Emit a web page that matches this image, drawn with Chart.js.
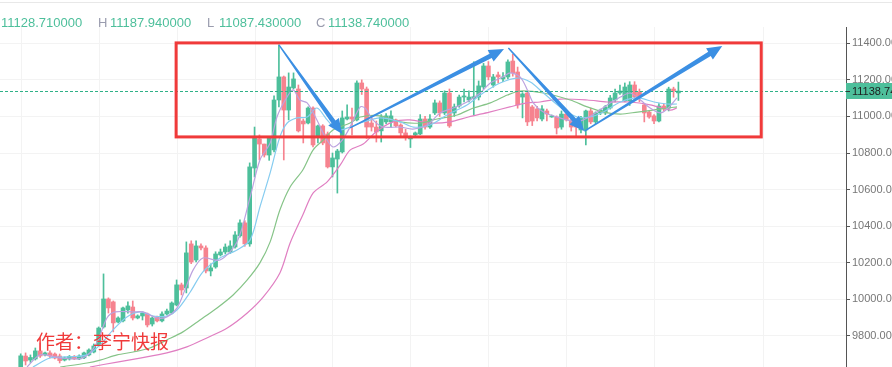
<!DOCTYPE html>
<html>
<head>
<meta charset="utf-8">
<script src="https://cdn.jsdelivr.net/npm/chart.js@4.4.0/dist/chart.umd.min.js"></script>
<style>
  html, body { margin: 0; padding: 0; background: #fff; overflow: hidden; }
</style>
</head>
<body>
<canvas id="kline" width="892" height="367"></canvas>
<script>
// candle data, one entry per bar, left to right
const opens = [
  9620, 9690, 9668, 9674, 9718, 9696, 9707, 9701, 9690, 9668,
  9674, 9688, 9674, 9680, 9696, 9712, 9751, 9849, 10002, 9986,
  9876, 9882, 9942, 9958, 9898, 9909, 9920, 9865, 9904, 9882,
  9920, 9925, 9969, 10079, 10062, 10303, 10215, 10292, 10281, 10155,
  10177, 10243, 10259, 10259, 10286, 10347, 10418, 10303, 10718, 10877,
  10849, 10789, 10817, 11090, 11216, 11035, 11156, 11150, 10975, 10964,
  11046, 10888, 10948, 10904, 10724, 10767, 10806, 10986, 10997, 10981,
  11183, 11150, 10964, 10942, 10921, 10970, 10970, 10981, 10953, 10910,
  10877, 10899, 10904, 10986, 10942, 11019, 11074, 11019, 11128, 11019,
  11057, 11106, 11090, 11098, 11106, 11161, 11276, 11172, 11227, 11205,
  11216, 11303, 11243, 11106, 11128, 11052, 11041, 10986, 11030, 10997,
  10997, 10942, 11013, 10981, 10964, 10926, 10926, 11030, 10970, 11019,
  11019, 11046, 11090, 11128, 11085, 11085, 11172, 11134, 11063, 11024,
  11003, 10975, 11057, 11046, 11150, 11128.71
];
const highs = [
  9702, 9707, 9696, 9734, 9761, 9712, 9718, 9707, 9701, 9685,
  9693, 9693, 9696, 9712, 9730, 9756, 9849, 10139, 10008, 9991,
  9904, 9958, 9986, 9991, 9915, 9931, 9925, 9904, 9909, 9931,
  9947, 9986, 10106, 10089, 10314, 10320, 10320, 10303, 10292, 10194,
  10260, 10275, 10303, 10320, 10370, 10434, 10430, 10746, 10942, 10899,
  10849, 10888, 11112, 11391, 11221, 11238, 11238, 11172, 10986, 11052,
  11052, 10953, 10955, 10915, 10800, 10820, 11030, 11063, 11046, 11194,
  11200, 11161, 11000, 10975, 11010, 11015, 11030, 10986, 10960, 10930,
  10893, 10915, 11010, 11000, 11010, 11090, 11085, 11140, 11150, 11068,
  11117, 11150, 11140, 11299, 11194, 11290, 11300, 11230, 11243, 11240,
  11310, 11340, 11270, 11130, 11139, 11060, 11055, 11060, 11040, 11008,
  11003, 11030, 11025, 10990, 10981, 11000, 11035, 11045, 11025, 11040,
  11060, 11115, 11150, 11172, 11183, 11190, 11190, 11150, 11070, 11030,
  11010, 11070, 11070, 11160, 11160, 11187.94
];
const lows = [
  9600, 9641, 9655, 9668, 9682, 9690, 9679, 9674, 9652, 9663,
  9668, 9670, 9670, 9676, 9690, 9707, 9745, 9843, 9925, 9822,
  9871, 9876, 9925, 9887, 9893, 9887, 9849, 9854, 9876, 9876,
  9915, 9920, 9964, 10024, 10035, 10195, 10204, 10270, 10144, 10128,
  10170, 10237, 10248, 10250, 10280, 10340, 10290, 10290, 10669, 10762,
  10778, 10760, 10806, 11052, 10762, 10981, 11150, 10915, 10855, 10959,
  10833, 10855, 10845, 10718, 10669, 10581, 10800, 10981, 10899, 10975,
  11120, 10880, 10920, 10860, 10860, 10960, 10940, 10942, 10890, 10870,
  10830, 10895, 10900, 10930, 10935, 11010, 11000, 11010, 10940, 11000,
  11050, 11080, 11080, 11008, 11090, 11150, 11200, 11160, 11183, 11190,
  11205, 11220, 11045, 10992, 10950, 10950, 10975, 10975, 10975, 10995,
  10904, 10930, 10975, 10920, 10890, 10910, 10844, 10960, 10960, 11010,
  11010, 11040, 11080, 11120, 11080, 11060, 11100, 11080, 10970, 10990,
  10960, 10970, 11030, 11030, 11105, 11087.43
];
const closes = [
  9691, 9663, 9682, 9718, 9690, 9707, 9690, 9679, 9665, 9680,
  9688, 9674, 9690, 9707, 9723, 9745, 9843, 10002, 9953, 9871,
  9898, 9953, 9964, 9898, 9909, 9925, 9860, 9898, 9882, 9920,
  9936, 9980, 10079, 10051, 10254, 10204, 10292, 10281, 10155, 10172,
  10248, 10259, 10286, 10292, 10352, 10418, 10303, 10724, 10882, 10849,
  10789, 10882, 11090, 11216, 11035, 11161, 11205, 10921, 10959, 11046,
  10844, 10948, 10855, 10724, 10773, 10811, 10992, 10997, 10986, 11183,
  11150, 10942, 10942, 10915, 10997, 11003, 11003, 10948, 10910, 10888,
  10888, 10910, 10986, 10942, 10986, 11074, 11019, 11128, 10948, 11052,
  11106, 11112, 11106, 11108, 11167, 11276, 11216, 11216, 11216, 11216,
  11298, 11238, 11063, 11123, 10970, 10975, 10992, 11041, 11013, 11003,
  10937, 11013, 10981, 10942, 10942, 10992, 11030, 10970, 11019, 11035,
  11052, 11101, 11128, 11139, 11161, 11172, 11106, 11106, 11019, 10997,
  10975, 11057, 11041, 11150, 11139, 11138.74
];

// moving averages: [bar index, price]
const maFast = [
  [1.3, 9630], [4, 9696], [8.1, 9679], [12.2, 9676], [14.2, 9707], [15.9, 9778], [17.7, 9898],
  [19.4, 9931], [23.1, 9931], [25.1, 9931], [28, 9898], [30, 9904], [32.1, 9953], [33.7, 10051],
  [35.4, 10161], [37.4, 10226], [40.9, 10215], [44.4, 10314], [47.1, 10560], [49.1, 10762],
  [51.2, 10855], [52.6, 10997], [54.3, 11090], [55.9, 11145], [57.3, 11090], [58.8, 11074],
  [60.8, 10981], [62.5, 10888], [64.1, 10833], [66, 10871], [67.6, 10942], [69.7, 11052],
  [70.7, 11046], [72.3, 10981], [74.4, 10942], [77.9, 10942], [80.5, 10931], [83.4, 10953],
  [86.1, 11019], [88.8, 11046], [91.6, 11079], [94.3, 11128], [96.4, 11183], [99, 11216],
  [100.5, 11238], [102.5, 11216], [104, 11145], [105.2, 11074], [107.3, 11024], [110.7, 10992],
  [114.2, 10970], [116.3, 10992], [118.3, 11024], [120.4, 11063], [123.1, 11106], [125.1, 11128],
  [127.2, 11090], [129.2, 11046], [131.3, 11019], [132.9, 11046], [134.7, 11101]
];
const maMid = [
  [2.5, 9630], [6, 9679], [9.5, 9685], [13.6, 9696], [16.3, 9751], [18.9, 9832], [21.8, 9904],
  [24.5, 9931], [27.2, 9909], [30, 9909], [32.1, 9942], [34.8, 10040], [37.4, 10150],
  [40.9, 10226], [44.4, 10270], [47.1, 10325], [49.1, 10505], [51.2, 10691], [53.2, 10888],
  [54.7, 10964], [56.7, 10992], [58.8, 10997], [60.8, 11046], [62.9, 10981], [65, 10926],
  [67.6, 10942], [69.7, 10964], [73.8, 10992], [77.9, 10970], [80.6, 10942], [84, 10953],
  [87.5, 11008], [91.6, 11063], [94.9, 11128], [98.4, 11183], [101.9, 11210], [104.6, 11188],
  [107.3, 11128], [110.7, 11052], [114.2, 10997], [116.9, 10997], [119.6, 11024], [123.1, 11079],
  [126.6, 11101], [130, 11079], [132.7, 11068], [134.7, 11068]
];
const maSlow = [
  [8.1, 9630], [13.6, 9652], [16.3, 9668], [19.8, 9696], [23.1, 9712], [26.5, 9734], [30, 9778],
  [33.3, 9822], [36.8, 9887], [40.3, 9953], [43.6, 10024], [46.5, 10106], [49.1, 10199],
  [51.2, 10314], [53.2, 10488], [55.3, 10614], [57.9, 10707], [60, 10816], [62.1, 10871],
  [64.1, 10926], [67.6, 10964], [69.7, 10997], [73.8, 11003], [77.9, 10970], [82, 10964],
  [85.5, 10986], [89.6, 11008], [92.9, 11046], [96.4, 11074], [99.9, 11117], [102.5, 11139],
  [107.3, 11128], [112.8, 11090], [116.3, 11052], [119.6, 11024], [123.1, 11013], [126.6, 11024],
  [129.8, 11035], [132.7, 11046], [134.7, 11052]
];
const maLong = [
  [14.2, 9630], [19.8, 9657], [24.5, 9679], [30, 9707], [34.1, 9740], [38.2, 9789], [42.4, 9843],
  [46.5, 9925], [49.8, 10013], [53.2, 10144], [55.3, 10308], [57.9, 10461], [60, 10581],
  [62.9, 10642], [65.6, 10735], [67.6, 10816], [70.3, 10849], [72.9, 10915], [76.4, 10970],
  [79.9, 10981], [84, 10964], [88.1, 10970], [91.9, 10997], [96.2, 11024], [100.4, 11052],
  [103.9, 11074], [106.6, 11079], [110.7, 11095], [116.3, 11090], [120.4, 11079], [125.1, 11079],
  [129.2, 11063], [133.3, 11035], [134.7, 11046]
];

const yTicks = [9800, 10000, 10200, 10400, 10600, 10800, 11000, 11200, 11400];
// vertical grid lines (time boundaries), in bar units
const timeGrid = [8.1, 24.1, 40.3, 55.9, 72.1, 88.1, 104, 120, 140.1, 164.7];

// hand drawn marks on the screenshot, in [bar, price]
const boxCorners = [[31.9, 11402], [152.0, 10888]];
const arrowPaths = [
  [[53.0, 11391], [66.0, 10904]],
  [[67.6, 10937], [99.2, 11369]],
  [[100.1, 11374], [115.7, 10920]],
  [[115.7, 10920], [144.0, 11385]]
];

const upColor = '#4dbf9b';
const downColor = '#f6838f';
const candleColors = closes.map((c, i) => c >= opens[i] ? upColor : downColor);
const last = closes.length - 1;

function arrow(ctx, x0, y0, x1, y1) {
  const dx = x1 - x0, dy = y1 - y0;
  const len = Math.hypot(dx, dy);
  const ux = dx / len, uy = dy / len;
  const nx = -uy, ny = ux;
  const headL = 15, headW = 6.5;
  const bx = x1 - ux * headL, by = y1 - uy * headL;
  const w0 = 0.7, w1 = 2.4;
  ctx.beginPath();
  ctx.moveTo(x0 + nx * w0, y0 + ny * w0);
  ctx.lineTo(bx + nx * w1, by + ny * w1);
  ctx.lineTo(bx + nx * headW, by + ny * headW);
  ctx.lineTo(x1, y1);
  ctx.lineTo(bx - nx * headW, by - ny * headW);
  ctx.lineTo(bx - nx * w1, by - ny * w1);
  ctx.lineTo(x0 - nx * w0, y0 - ny * w0);
  ctx.closePath();
  ctx.fill();
}

const overlay = {
  id: 'overlay',
  afterDraw(chart) {
    const { ctx, chartArea: a, scales: { x, y } } = chart;
    ctx.save();

    // thin rule at the very top
    ctx.strokeStyle = '#e8e8e8';
    ctx.lineWidth = 1;
    ctx.beginPath();
    ctx.moveTo(0, 2.5);
    ctx.lineTo(892, 2.5);
    ctx.stroke();

    // header O/H/L/C
    ctx.font = '13px "Liberation Sans", Arial, sans-serif';
    ctx.textBaseline = 'middle';
    const head = [['O', -11, opens[last]], ['H', 98, highs[last]], ['L', 207, lows[last]], ['C', 316, closes[last]]];
    head.forEach(([k, px, v]) => {
      ctx.fillStyle = '#9a9cae';
      ctx.fillText(k, px, 23);
      ctx.fillStyle = upColor;
      ctx.fillText(v.toFixed(6), px + 12, 23);
    });

    // last price line and tag
    const py = Math.round(y.getPixelForValue(closes[last])) + 0.5;
    ctx.strokeStyle = '#2fb187';
    ctx.setLineDash([3, 2]);
    ctx.beginPath();
    ctx.moveTo(a.left, py);
    ctx.lineTo(a.right, py);
    ctx.stroke();
    ctx.setLineDash([]);
    ctx.fillStyle = upColor;
    ctx.fillRect(a.right, py - 8.5, 892 - a.right, 16);
    ctx.strokeStyle = '#333';
    ctx.beginPath();
    ctx.moveTo(a.right, py);
    ctx.lineTo(a.right + 4, py);
    ctx.stroke();
    ctx.fillStyle = '#1e1e1e';
    ctx.font = '11px "Liberation Sans", Arial, sans-serif';
    ctx.fillText(closes[last].toFixed(2), a.right + 6, py + 0.5);

    // red box
    const bx0 = x.getPixelForValue(boxCorners[0][0]);
    const by0 = y.getPixelForValue(boxCorners[0][1]);
    const bx1 = x.getPixelForValue(boxCorners[1][0]);
    const by1 = y.getPixelForValue(boxCorners[1][1]);
    ctx.strokeStyle = '#f03a3a';
    ctx.lineWidth = 3;
    ctx.strokeRect(bx0, by0, bx1 - bx0, by1 - by0);

    // blue arrows
    ctx.fillStyle = '#3b8fe3';
    arrowPaths.forEach(([p, q]) => {
      arrow(ctx, x.getPixelForValue(p[0]), y.getPixelForValue(p[1]),
        x.getPixelForValue(q[0]), y.getPixelForValue(q[1]));
    });

    // author mark
    ctx.fillStyle = '#f03a3a';
    ctx.font = '19px "Noto Sans CJK SC", sans-serif';
    ctx.textBaseline = 'middle';
    ctx.fillText('作者：李宁快报', 36, 342);

    ctx.restore();
  }
};

const toPts = arr => arr.map(([i, v]) => ({ x: i, y: v }));
const maLine = (arr, color) => ({
  type: 'line',
  data: toPts(arr),
  borderColor: color,
  borderWidth: 1.2,
  pointRadius: 0,
  tension: 0.3,
  order: 1
});

new Chart(document.getElementById('kline'), {
  type: 'bar',
  data: {
    datasets: [
      maLine(maFast, '#bba2df'),
      maLine(maMid, '#86ccf0'),
      maLine(maSlow, '#86c488'),
      maLine(maLong, '#e07fc2'),
      {
        label: 'wick',
        data: opens.map((o, i) => ({ x: i, y: [lows[i], highs[i]] })),
        backgroundColor: candleColors,
        barThickness: 1,
        grouped: false,
        order: 3
      },
      {
        label: 'body',
        data: opens.map((o, i) => ({ x: i, y: [o, closes[i]] })),
        backgroundColor: candleColors,
        barThickness: 4,
        minBarLength: 1,
        grouped: false,
        order: 2
      }
    ]
  },
  options: {
    responsive: false,
    animation: false,
    devicePixelRatio: 1,
    events: [],
    layout: { padding: { top: 27, left: 0, right: 0, bottom: 0 } },
    plugins: { legend: { display: false }, tooltip: { enabled: false } },
    scales: {
      x: {
        type: 'linear',
        min: -4.25,
        max: 169.4,
        offset: false,
        afterBuildTicks: s => { s.ticks = timeGrid.map(v => ({ value: v })); },
        afterFit: s => { s.height = 0; s.paddingLeft = 0; s.paddingRight = 0; },
        ticks: { display: false },
        grid: { color: '#f3f3f3', drawTicks: false },
        border: { display: false }
      },
      y: {
        position: 'right',
        min: 9630,
        max: 11489,
        afterBuildTicks: s => { s.ticks = yTicks.map(v => ({ value: v })); },
        afterFit: s => { s.width = 46; s.paddingTop = 0; s.paddingBottom = 0; },
        ticks: {
          color: '#777',
          font: { size: 11, family: '"Liberation Sans", Arial, sans-serif' },
          padding: 2,
          callback: v => v.toFixed(2)
        },
        grid: { color: '#f3f3f3', tickLength: 4, tickColor: '#555' },
        border: { color: '#555' }
      }
    }
  },
  plugins: [overlay]
});
</script>
</body>
</html>
